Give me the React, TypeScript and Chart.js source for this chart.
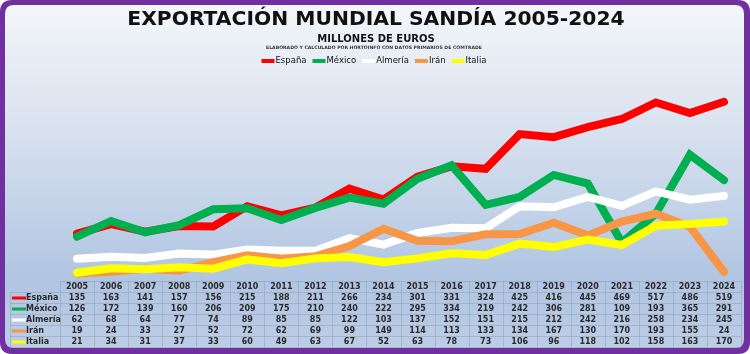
import { useEffect, useRef } from 'react';
import { Chart, registerables } from 'chart.js';
Chart.register(...registerables);

const years = ['2005','2006','2007','2008','2009','2010','2011','2012','2013','2014','2015','2016','2017','2018','2019','2020','2021','2022','2023','2024'];
const espana = [135,163,141,157,156,215,188,211,266,234,301,331,324,425,416,445,469,517,486,519];
const mexico = [126,172,139,160,206,209,175,210,240,222,295,334,219,242,306,281,109,193,365,291];
const almeria = [62,68,64,77,74,89,85,85,122,103,137,152,151,215,212,242,216,258,234,245];
const iran = [19,24,33,27,52,72,62,69,99,149,114,113,133,134,167,130,170,193,155,24];
const italia = [21,34,31,37,33,60,49,63,67,52,63,78,73,106,96,118,102,158,163,170];
const seriesNames = ['España','México','Almería','Irán','Italia'];
const seriesColors = ['#ff0000','#00b050','#ffffff','#f79646','#ffff00'];
const seriesData = [espana, mexico, almeria, iran, italia];

const titleText = 'EXPORTACIÓN MUNDIAL SANDÍA 2005-2024';
const subtitleText = 'MILLONES DE EUROS';
const sourceText = 'ELABORADO Y CALCULADO POR HORTOINFO CON DATOS PRIMARIOS DE COMTRADE';

const FONT = '"DejaVu Sans", Verdana, sans-serif';

function roundRect(ctx: CanvasRenderingContext2D, x: number, y: number, w: number, h: number, r: number) {
  ctx.beginPath();
  ctx.moveTo(x + r, y);
  ctx.lineTo(x + w - r, y);
  ctx.quadraticCurveTo(x + w, y, x + w, y + r);
  ctx.lineTo(x + w, y + h - r);
  ctx.quadraticCurveTo(x + w, y + h, x + w - r, y + h);
  ctx.lineTo(x + r, y + h);
  ctx.quadraticCurveTo(x, y + h, x, y + h - r);
  ctx.lineTo(x, y + r);
  ctx.quadraticCurveTo(x, y, x + r, y);
  ctx.closePath();
}

const decorPlugin = {
  id: 'decor',
  beforeDraw(chart: any) {
    const ctx: CanvasRenderingContext2D = chart.ctx;
    const W = chart.width, H = chart.height;
    ctx.save();
    ctx.fillStyle = '#7030a0';
    roundRect(ctx, 0, 0, W, H, 12);
    ctx.fill();
    const g = ctx.createLinearGradient(0, 5, 0, H - 6);
    g.addColorStop(0, '#f4f6fa');
    g.addColorStop(0.35, '#d9e2ef');
    g.addColorStop(0.8, '#b0c5e2');
    g.addColorStop(1, '#bccde6');
    ctx.fillStyle = g;
    roundRect(ctx, 5, 5, W - 11, H - 11, 9);
    ctx.fill();
    ctx.restore();
  },
  afterDraw(chart: any) {
    const ctx: CanvasRenderingContext2D = chart.ctx;
    const area = chart.chartArea;
    const xs = chart.scales.x;
    ctx.save();
    ctx.fillStyle = '#111';
    ctx.textAlign = 'center';
    ctx.textBaseline = 'middle';
    ctx.font = `bold 20.3px ${FONT}`;
    ctx.fillText(titleText, 376, 20);
    ctx.font = `bold 10px ${FONT}`;
    ctx.fillText(subtitleText, 376, 39);
    ctx.font = `bold 4.6px ${FONT}`;
    ctx.fillStyle = '#333';
    ctx.fillText(sourceText, 374, 48);

    // legend
    ctx.font = `8.5px ${FONT}`;
    const markW = 13, gapAfterMark = 1, gapItem = 6;
    let total = 0;
    const widths = seriesNames.map(n => ctx.measureText(n).width);
    widths.forEach(w => { total += markW + gapAfterMark + w; });
    total += gapItem * (seriesNames.length - 1);
    let lx = 374 - total / 2;
    const ly = 61;
    ctx.textAlign = 'left';
    seriesNames.forEach((n, i) => {
      ctx.fillStyle = seriesColors[i];
      ctx.fillRect(lx, ly - 2, markW, 4);
      lx += markW + gapAfterMark;
      ctx.fillStyle = '#111';
      ctx.fillText(n, lx, ly);
      lx += widths[i] + gapItem;
    });

    // data table
    const n = years.length;
    const cw = (area.right - area.left) / n;
    const top = area.bottom + 1;
    const rh = 11;
    const labelLeft = 10;
    const bottom = top + rh * 6;
    ctx.strokeStyle = 'rgba(150,160,178,0.55)';
    ctx.lineWidth = 1;
    ctx.beginPath();
    ctx.moveTo(area.left, top + 0.5);
    ctx.lineTo(area.right, top + 0.5);
    for (let r = 1; r <= 6; r++) {
      const y = Math.round(top + r * rh) + 0.5;
      ctx.moveTo(labelLeft, y);
      ctx.lineTo(area.right, y);
    }
    for (let c = 0; c <= n; c++) {
      const x = Math.round(area.left + c * cw) + 0.5;
      ctx.moveTo(x, top);
      ctx.lineTo(x, bottom);
    }
    ctx.moveTo(labelLeft + 0.5, top + rh);
    ctx.lineTo(labelLeft + 0.5, bottom);
    ctx.stroke();

    ctx.font = `bold 8px ${FONT}`;
    ctx.fillStyle = '#2a2a2a';
    ctx.textAlign = 'center';
    years.forEach((yr, i) => {
      ctx.fillText(yr, xs.getPixelForValue(i), top + rh / 2 + 0.5);
    });
    seriesData.forEach((arr, s) => {
      const cy = top + rh * (s + 1) + rh / 2 + 0.5;
      ctx.fillStyle = seriesColors[s];
      ctx.fillRect(12, cy - 1.5, 14, 3);
      ctx.fillStyle = '#2a2a2a';
      ctx.textAlign = 'left';
      ctx.fillText(seriesNames[s], 26, cy);
      ctx.textAlign = 'center';
      arr.forEach((v, i) => {
        ctx.fillText(String(v), xs.getPixelForValue(i), cy);
      });
    });
    ctx.restore();
  },
};

export default function App() {
  const ref = useRef<HTMLCanvasElement | null>(null);
  useEffect(() => {
    document.body.style.margin = '0';
    const canvas = ref.current;
    if (!canvas) return;
    Chart.defaults.font.family = FONT;
    const chart = new Chart(canvas, {
      type: 'line',
      data: {
        labels: years,
        datasets: seriesData.map((d, i) => ({
          label: seriesNames[i],
          data: d,
          borderColor: seriesColors[i],
          backgroundColor: seriesColors[i],
          borderWidth: 8,
          pointRadius: 0,
          pointHoverRadius: 0,
          tension: 0,
          fill: false,
          borderCapStyle: 'round' as const,
          borderJoinStyle: 'miter' as const,
          order: seriesNames.length - 1 - i,
        })),
      },
      options: {
        responsive: false,
        animation: false,
        devicePixelRatio: 1,
        layout: { padding: { left: 60, right: 9, top: 74, bottom: 74 } },
        plugins: {
          legend: { display: false },
          title: { display: false },
          tooltip: { enabled: false },
        },
        scales: {
          x: { type: 'category', offset: true, display: false, grid: { display: false } },
          y: { min: 0, max: 600, display: false, grid: { display: false } },
        },
      },
      plugins: [decorPlugin],
    });
    return () => chart.destroy();
  }, []);
  return (
    <div style={{ width: 750, height: 354, position: 'relative' }}>
      <canvas ref={ref} width={750} height={354} style={{ width: 750, height: 354, display: 'block' }} />
    </div>
  );
}
